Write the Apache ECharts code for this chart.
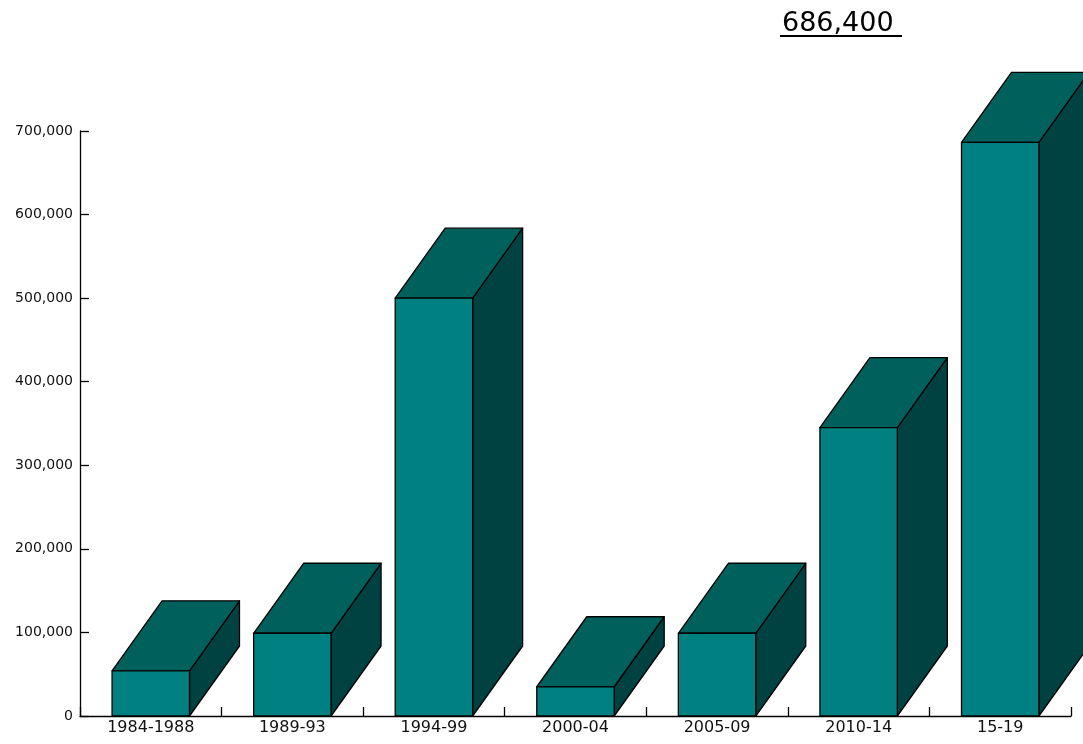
<!DOCTYPE html>
<html><head><meta charset="utf-8">
<script src="https://cdn.jsdelivr.net/npm/echarts@6/dist/echarts.min.js"></script>
<style>html,body{margin:0;padding:0;background:#fff}#c{width:1083px;height:744px}</style>
</head><body><div id="c"></div>
<script>
const categories = ['1984-1988', '1989-93', '1994-99', '2000-04', '2005-09', '2010-14', '15-19'];
const values = [54000, 99000, 500000, 35000, 99000, 345000, 686400];
const yMax = 700000;
const yInterval = 100000;
const headline = '686,400';

const chart = echarts.init(document.getElementById('c'));
const FONT = 'DejaVu Sans';
chart.setOption({
  animation: false,
  backgroundColor: '#fff',
  grid: { left: 80, right: 12, top: 131, bottom: 28, containLabel: false },
  xAxis: {
    type: 'category', data: categories,
    axisLine: { lineStyle: { color: '#000', width: 1.3 } },
    axisTick: { show: true, interval: 0, alignWithLabel: false, inside: true, length: 9, lineStyle: { color: '#000', width: 1.3 } },
    axisLabel: { interval: 0, color: '#111', fontFamily: FONT, fontSize: 16, margin: 4 }
  },
  yAxis: {
    type: 'value', min: 0, max: yMax, interval: yInterval,
    splitLine: { show: false },
    axisLine: { show: true, lineStyle: { color: '#000', width: 1.3 } },
    axisTick: { show: true, inside: true, length: 9, lineStyle: { color: '#000', width: 1.3 } },
    axisLabel: { color: '#111', fontFamily: FONT, fontSize: 14, margin: 7,
      formatter: v => v.toLocaleString('en-US') }
  },
  graphic: [
    { type: 'text', left: 782, top: 10, z: 10,
      style: { text: headline, fontFamily: FONT, fontSize: 27, fill: '#000' } },
    { type: 'rect', left: 780, top: 35, z: 10, shape: { width: 122, height: 2 }, style: { fill: '#000' } }
  ],
  series: [{
    type: 'custom',
    clip: false,
    z: 1,
    data: values.map((v, i) => [i, v]),
    encode: { x: 0, y: 1 },
    renderItem: function (params, api) {
      const i = api.value(0), v = api.value(1);
      const top = api.coord([i, v]);
      const base = api.coord([i, 0]);
      const band = api.size([1, 0])[0];
      const w = band * 0.547, dx = band * 0.353, dy = 70;
      const l = top[0] - w / 2, r = l + w, ty = top[1], by = base[1];
      const ls = { stroke: '#000', lineWidth: 1.3, lineJoin: 'round' };
      return {
        type: 'group',
        children: [
          { type: 'polygon', shape: { points: [[r, ty], [r + dx, ty - dy], [r + dx, by - dy], [r, by]] },
            style: Object.assign({ fill: '#004242' }, ls) },
          { type: 'polygon', shape: { points: [[l, ty], [l + dx, ty - dy], [r + dx, ty - dy], [r, ty]] },
            style: Object.assign({ fill: '#00605c' }, ls) },
          { type: 'rect', shape: { x: l, y: ty, width: w, height: by - ty },
            style: Object.assign({ fill: '#008080' }, ls) }
        ]
      };
    }
  }]
});
</script></body></html>
